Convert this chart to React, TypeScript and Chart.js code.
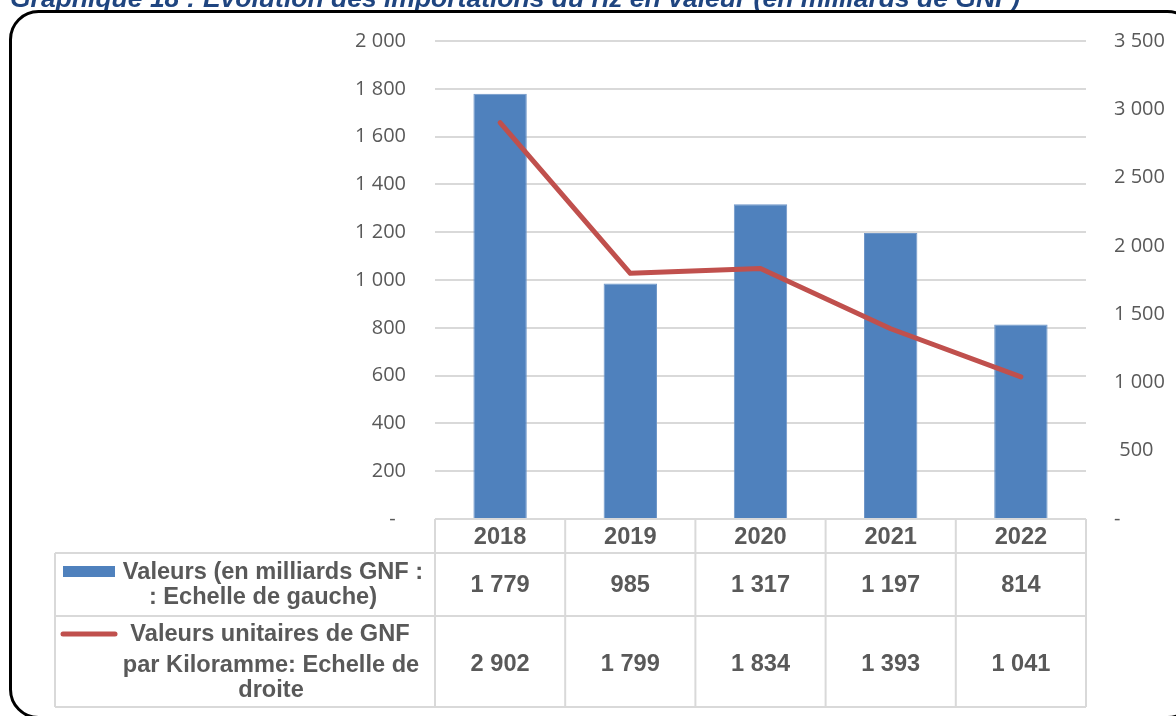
import React, { useEffect, useRef } from "react";
import { Chart, registerables } from "chart.js";

Chart.register(...registerables);

const title = "Graphique 18 : Evolution des importations du riz en valeur (en milliards de GNF)";
const years = ["2018", "2019", "2020", "2021", "2022"];
const valeurs = [1779, 985, 1317, 1197, 814];
const unitaires = [2902, 1799, 1834, 1393, 1041];
const leftTicks = { min: 0, max: 2000, step: 200 };
const rightTicks = { min: 0, max: 3500, step: 500 };
const barLabel = ["Valeurs (en milliards GNF :", ": Echelle de gauche)"];
const lineLabel = ["Valeurs unitaires de GNF", "par Kiloramme: Echelle de", "droite"];

const BLUE = "#4F81BD";
const RED = "#C0504D";
const GREY_TEXT = "#595959";
const GRID = "#D9D9D9";

const fmt = (v: number) => Math.round(v).toString().replace(/\B(?=(\d{3})+(?!\d))/g, " ");

const tablePlugin = {
  id: "dataTable",
  afterDraw(chart: any) {
    const ctx = chart.ctx as CanvasRenderingContext2D;
    const a = chart.chartArea;
    const n = years.length;
    const colW = (a.right - a.left) / n;
    const xs = chart.scales.x;
    const top = a.bottom;
    const r1 = top + 34;
    const r2 = r1 + 63;
    const r3 = r2 + 91;
    const legLeft = 55;

    ctx.save();
    ctx.strokeStyle = GRID;
    ctx.lineWidth = 2;
    ctx.beginPath();
    ctx.moveTo(a.left, top); ctx.lineTo(a.right, top);
    ctx.moveTo(legLeft, r1); ctx.lineTo(a.right, r1);
    ctx.moveTo(legLeft, r2); ctx.lineTo(a.right, r2);
    ctx.moveTo(legLeft, r3); ctx.lineTo(a.right, r3);
    ctx.moveTo(legLeft, r1); ctx.lineTo(legLeft, r3);
    for (let i = 0; i <= n; i++) {
      const x = a.left + i * colW;
      ctx.moveTo(x, top); ctx.lineTo(x, r3);
    }
    ctx.stroke();

    ctx.fillStyle = GREY_TEXT;
    ctx.font = 'bold 23.6px "Liberation Sans", Arial, sans-serif';
    ctx.textAlign = "center";
    ctx.textBaseline = "alphabetic";
    for (let i = 0; i < n; i++) {
      const cx = xs.getPixelForValue(i);
      ctx.fillText(years[i], cx, top + 25);
      ctx.fillText(fmt(valeurs[i]), cx, r1 + 39);
      ctx.fillText(fmt(unitaires[i]), cx, r2 + 55);
    }
    ctx.fillText(barLabel[0], 273, r1 + 26);
    ctx.fillText(barLabel[1], 263, r1 + 51);
    ctx.fillText(lineLabel[0], 270, r2 + 25);
    ctx.fillText(lineLabel[1], 271, r2 + 56);
    ctx.fillText(lineLabel[2], 271, r2 + 81);

    ctx.fillStyle = BLUE;
    ctx.fillRect(63, r1 + 13, 52, 11);
    ctx.strokeStyle = RED;
    ctx.lineWidth = 5;
    ctx.lineCap = "round";
    ctx.beginPath();
    ctx.moveTo(63, r2 + 18);
    ctx.lineTo(115, r2 + 18);
    ctx.stroke();

    ctx.fillStyle = "#1F4580";
    ctx.font = 'italic bold 26.5px "Liberation Sans", Arial, sans-serif';
    ctx.textAlign = "left";
    ctx.fillText(title, 10, 7);

    ctx.strokeStyle = "#000000";
    ctx.lineWidth = 3;
    ctx.lineCap = "butt";
    ctx.beginPath();
    (ctx as any).roundRect(10.5, 11.5, 1185, 706, 28);
    ctx.stroke();
    ctx.restore();
  },
};

export default function App() {
  const ref = useRef<HTMLCanvasElement | null>(null);

  useEffect(() => {
    if (!ref.current) return;
    const chart = new Chart(ref.current, {
      type: "bar",
      data: {
        labels: years,
        datasets: [
          {
            type: "line",
            label: lineLabel.join(" "),
            data: unitaires,
            yAxisID: "y1",
            borderColor: RED,
            backgroundColor: RED,
            borderWidth: 5,
            pointRadius: 0,
            borderCapStyle: "round",
            borderJoinStyle: "round",
            tension: 0,
            order: 0,
          } as any,
          {
            type: "bar",
            label: barLabel.join(" "),
            data: valeurs,
            yAxisID: "y",
            backgroundColor: BLUE,
            borderColor: "#6E96C8",
            borderWidth: 1,
            categoryPercentage: 1,
            barPercentage: 0.41,
            order: 1,
          } as any,
        ],
      },
      options: {
        animation: false,
        responsive: false,
        devicePixelRatio: 1,
        layout: { padding: { top: 40, bottom: 197, left: 0, right: 0 } },
        plugins: { legend: { display: false }, tooltip: { enabled: false }, title: { display: false } },
        scales: {
          x: { display: false, offset: true },
          y: {
            position: "left",
            min: leftTicks.min,
            max: leftTicks.max,
            afterFit: (s: any) => { s.width = 435; },
            border: { display: false },
            grid: { color: GRID, lineWidth: 2, drawTicks: false },
            ticks: {
              stepSize: leftTicks.step,
              padding: 29,
              color: GREY_TEXT,
              font: { family: '"Open Sans", sans-serif', size: 20 },
              callback: (v: any) => (Number(v) === 0 ? "-  " : fmt(Number(v))),
            },
          },
          y1: {
            position: "right",
            min: rightTicks.min,
            max: rightTicks.max,
            afterFit: (s: any) => { s.width = 90; },
            border: { display: false },
            grid: { display: false, drawTicks: false },
            ticks: {
              stepSize: rightTicks.step,
              padding: 28,
              color: GREY_TEXT,
              font: { family: '"Open Sans", sans-serif', size: 20 },
              callback: (v: any) => {
                const n = Number(v);
                if (n === 0) return "-";
                return n < 1000 ? " " + fmt(n) : fmt(n);
              },
            },
          },
        },
      } as any,
      plugins: [tablePlugin],
    });
    return () => chart.destroy();
  }, []);

  return (
    <div style={{ position: "fixed", left: 0, top: 0, width: 1176, height: 716, overflow: "hidden", background: "#fff" }}>
      <canvas ref={ref} width={1176} height={716} style={{ display: "block", width: 1176, height: 716 }} />
    </div>
  );
}
